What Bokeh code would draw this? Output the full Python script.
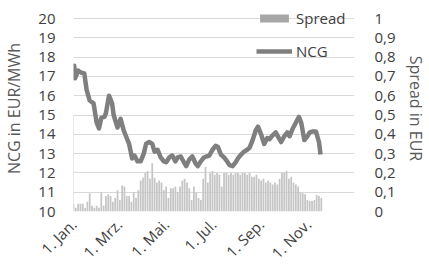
import pandas as pd
from bokeh.plotting import figure
from bokeh.models import Range1d, LinearAxis, FixedTicker, CustomJSTickFormatter, Legend, LegendItem
from bokeh.embed import file_html
from bokeh.resources import INLINE

# NCG price (EUR/MWh)
ncg_dates = ["2015-01-01","2015-01-02","2015-01-03","2015-01-07","2015-01-11","2015-01-15","2015-01-18","2015-01-22",
             "2015-01-27","2015-01-31","2015-02-03","2015-02-06","2015-02-10","2015-02-12","2015-02-16","2015-02-20",
             "2015-02-22","2015-02-27","2015-03-03","2015-03-07","2015-03-10","2015-03-14","2015-03-18","2015-03-21",
             "2015-03-25","2015-03-29","2015-04-02","2015-04-05","2015-04-09","2015-04-13","2015-04-16","2015-04-20",
             "2015-04-24","2015-04-28","2015-05-01","2015-05-05","2015-05-09","2015-05-13","2015-05-16","2015-05-20",
             "2015-05-24","2015-05-27","2015-05-31","2015-06-04","2015-06-08","2015-06-11","2015-06-15","2015-06-19",
             "2015-06-22","2015-06-26","2015-06-30","2015-07-04","2015-07-07","2015-07-11","2015-07-15","2015-07-19",
             "2015-07-22","2015-07-26","2015-07-30","2015-08-02","2015-08-06","2015-08-10","2015-08-14","2015-08-17",
             "2015-08-21","2015-08-25","2015-08-28","2015-09-01","2015-09-05","2015-09-09","2015-09-12","2015-09-16",
             "2015-09-20","2015-09-24","2015-09-27","2015-10-01","2015-10-05","2015-10-08","2015-10-12","2015-10-16",
             "2015-10-20","2015-10-23","2015-10-27","2015-10-31","2015-11-03","2015-11-07","2015-11-11","2015-11-15",
             "2015-11-17"]
ncg_values = [17.0, 17.55, 16.9, 17.3, 17.2, 17.15, 16.3, 15.75,
              15.6, 14.6, 14.3, 14.85, 14.9, 15.1, 16.0, 15.6,
              15.0, 14.35, 14.8, 14.2, 13.9, 13.5, 12.75, 12.9,
              12.6, 12.6, 13.0, 13.5, 13.6, 13.5, 13.1, 13.2,
              12.8, 12.6, 12.55, 12.8, 12.9, 12.6, 12.8, 12.85,
              12.55, 12.35, 12.7, 12.85, 12.5, 12.35, 12.6, 12.8,
              12.85, 12.9, 13.2, 13.4, 13.35, 12.95, 12.8, 12.6,
              12.4, 12.35, 12.55, 12.75, 12.95, 13.1, 13.2, 13.3,
              13.7, 14.2, 14.4, 14.0, 13.5, 13.8, 13.75, 13.95,
              14.1, 13.8, 13.6, 13.9, 14.1, 13.9, 14.3, 14.6,
              14.9, 14.6, 13.7, 13.9, 14.1, 14.15, 14.15, 13.6,
              12.95]

# Spread (EUR), one bar every third day starting 1 Jan
spread_start = "2015-01-01"
spread_values = [0.04, 0.02, 0.04, 0.04, 0.04, 0.02, 0.05, 0.095, 0.03, 0.02,
                 0.03, 0.02, 0.10, 0.03, 0.08, 0.09, 0.08, 0.05, 0.07, 0.11,
                 0.06, 0.135, 0.13, 0.08, 0.08, 0.05, 0.10, 0.07, 0.11, 0.16,
                 0.175, 0.20, 0.21, 0.17, 0.25, 0.175, 0.15, 0.16, 0.15, 0.11,
                 0.13, 0.07, 0.12, 0.12, 0.13, 0.10, 0.13, 0.16, 0.17, 0.15,
                 0.12, 0.06, 0.13, 0.10, 0.07, 0.06, 0.17, 0.23, 0.15, 0.20,
                 0.21, 0.19, 0.20, 0.19, 0.13, 0.20, 0.20, 0.19, 0.20, 0.19,
                 0.20, 0.20, 0.19, 0.20, 0.20, 0.19, 0.20, 0.18, 0.18, 0.19,
                 0.17, 0.16, 0.17, 0.15, 0.16, 0.15, 0.14, 0.15, 0.14, 0.17,
                 0.20, 0.20, 0.21, 0.17, 0.18, 0.15, 0.14, 0.13, 0.10, 0.095,
                 0.09, 0.06, 0.055, 0.055, 0.06, 0.085, 0.08, 0.07]

tick_dates = ["2015-01-01", "2015-03-01", "2015-05-01", "2015-07-01", "2015-09-01", "2015-11-01"]
left_ticks = [10, 11, 12, 13, 14, 15, 16, 17, 18, 19, 20]
right_ticks = [0, 0.1, 0.2, 0.3, 0.4, 0.5, 0.6, 0.7, 0.8, 0.9, 1.0]

FONT = "Open Sans"
LABEL_COL = "#404040"
TITLE_COL = "#595959"

ncg_x = pd.to_datetime(ncg_dates)
spread_x = pd.date_range(spread_start, periods=len(spread_values), freq="3D")

def ms(d):
    return pd.Timestamp(d).value / 1e6

p = figure(width=429, height=275, output_backend="svg", toolbar_location=None,
           x_axis_type="datetime",
           x_range=Range1d(ms("2015-01-01"), ms("2015-12-31")),
           y_range=Range1d(10, 20.674),
           min_border_left=66, min_border_right=72, min_border_top=5, min_border_bottom=64)
p.outline_line_color = None
p.background_fill_color = "white"
p.border_fill_color = "white"

p.extra_y_ranges = {"spread": Range1d(0, 1.0674)}

bars = p.vbar(x=spread_x, top=spread_values, bottom=0, width=2.3 * 86400000,
              y_range_name="spread", fill_color="#c6c6c6", line_color=None)
# legend swatch renderer, drawn outside the visible x range
legend_bar = p.vbar(x=[pd.Timestamp("2014-06-01")], top=[0.5], bottom=0, width=86400000,
                    y_range_name="spread", fill_color="#a6a6a6", line_color=None)
line = p.line(ncg_x, ncg_values, line_color="#7f7f7f", line_width=4.5, line_join="round")

# axes
xa = p.xaxis[0]
xa.ticker = FixedTicker(ticks=[ms(d) for d in tick_dates])
xa.formatter = CustomJSTickFormatter(code="""
const m = ["Jan.","Feb.","Mrz.","Apr.","Mai.","Jun.","Jul.","Aug.","Sep.","Okt.","Nov.","Dez."];
const d = new Date(tick);
return "1. " + m[d.getUTCMonth()];
""")
xa.major_label_orientation = 0.785398
xa.axis_line_color = None
xa.major_tick_line_color = None
xa.minor_tick_line_color = None
xa.major_label_text_font = FONT
xa.major_label_text_font_size = "15px"
xa.major_label_text_color = LABEL_COL
xa.major_label_standoff = 4

ya = p.yaxis[0]
ya.ticker = FixedTicker(ticks=left_ticks)
ya.axis_label = "NCG in EUR/MWh"
ya.axis_line_color = None
ya.major_tick_line_color = None
ya.minor_tick_line_color = None
ya.major_label_text_font = FONT
ya.major_label_text_font_size = "15px"
ya.major_label_text_color = LABEL_COL
ya.major_label_standoff = 12
ya.axis_label_text_font = FONT
ya.axis_label_text_font_size = "16px"
ya.axis_label_text_font_style = "normal"
ya.axis_label_text_color = TITLE_COL
ya.axis_label_standoff = 10

ra = LinearAxis(y_range_name="spread", ticker=FixedTicker(ticks=right_ticks))
ra.formatter = CustomJSTickFormatter(code="""
const s = (Math.round(tick * 10) / 10).toString();
return s.replace('.', ',');
""")
ra.axis_label = "Spread in EUR"
ra.axis_line_color = None
ra.major_tick_line_color = None
ra.minor_tick_line_color = None
ra.major_label_text_font = FONT
ra.major_label_text_font_size = "15px"
ra.major_label_text_color = LABEL_COL
ra.major_label_standoff = 14
ra.axis_label_text_font = FONT
ra.axis_label_text_font_size = "16px"
ra.axis_label_text_font_style = "normal"
ra.axis_label_text_color = TITLE_COL
ra.axis_label_standoff = 6
p.add_layout(ra, "right")

p.xgrid.grid_line_color = None
p.ygrid.ticker = FixedTicker(ticks=left_ticks)
p.ygrid.grid_line_color = "#d9d9d9"
p.ygrid.grid_line_width = 1

legend = Legend(items=[LegendItem(label="Spread", renderers=[legend_bar]),
                       LegendItem(label="NCG", renderers=[line])],
                location=(183, 150), orientation="vertical")
legend.background_fill_alpha = 0
legend.border_line_color = None
legend.padding = 0
legend.margin = 0
legend.spacing = 13
legend.glyph_width = 36
legend.glyph_height = 10
legend.label_height = 20
legend.label_standoff = 4
legend.label_text_font = FONT
legend.label_text_font_size = "15px"
legend.label_text_color = LABEL_COL
legend.label_text_baseline = "middle"
p.add_layout(legend, "center")

open("out.html", "w").write(file_html(p, INLINE))
